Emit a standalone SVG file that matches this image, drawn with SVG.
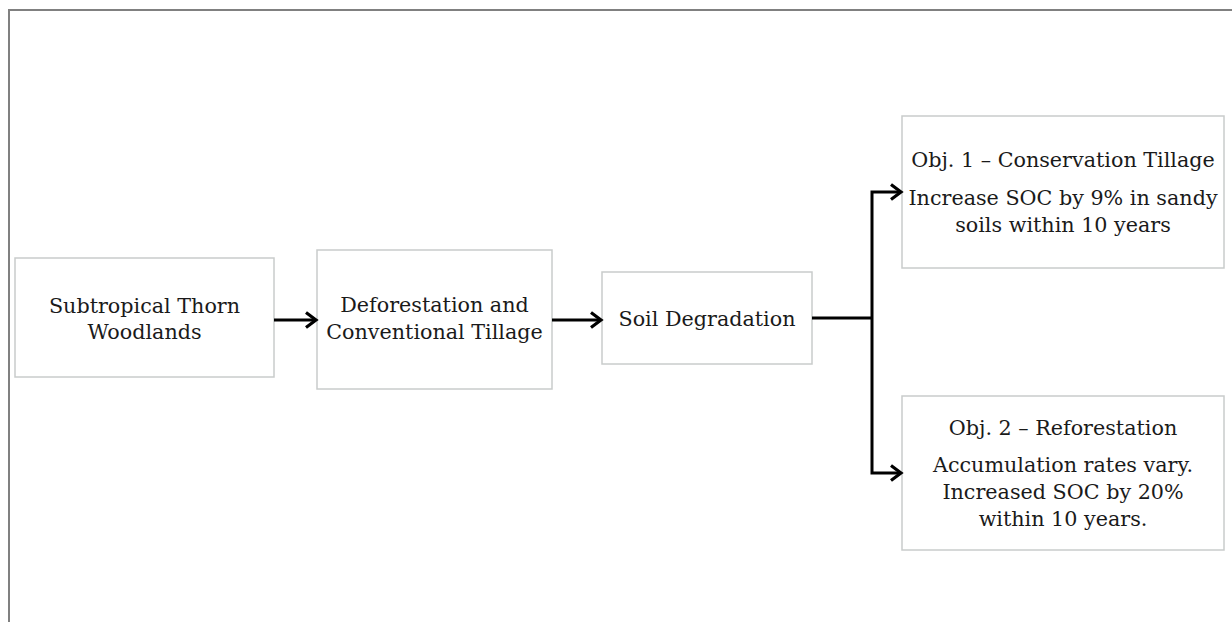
<svg xmlns="http://www.w3.org/2000/svg" width="1232" height="622" viewBox="0 0 1232 622">
<style>
.frame{fill:none;stroke:#808080;stroke-width:2}
.box{fill:#fff;stroke:#c9cccb;stroke-width:1.5}
.t{font-family:"DejaVu Serif","Liberation Serif",serif;font-size:20.7px;fill:#1a1a1a;text-anchor:middle}
.c{fill:none;stroke:#000;stroke-width:3}
</style>
<defs>
<marker id="arr" markerUnits="userSpaceOnUse" markerWidth="18" markerHeight="20" refX="14" refY="10" orient="auto">
<path d="M4,2.5 L14,10 L4,17.5" fill="none" stroke="#000" stroke-width="3.2"/>
</marker>
</defs>
<rect width="1232" height="622" fill="#fff"/>
<path class="frame" d="M9,622 V10 H1232"/>
<g id="n1"><rect class="box" x="15" y="258" width="259" height="119"/>
<text class="t" x="144.5" y="313">Subtropical Thorn</text><text class="t" x="144.5" y="339">Woodlands</text></g>
<g id="n2"><rect class="box" x="317" y="250" width="235" height="139"/>
<text class="t" x="434.5" y="312">Deforestation and</text><text class="t" x="434.5" y="339">Conventional Tillage</text></g>
<g id="n3"><rect class="box" x="602" y="272" width="210" height="92"/>
<text class="t" x="707" y="326">Soil Degradation</text></g>
<g id="n4"><rect class="box" x="902" y="116" width="322" height="152"/>
<text class="t" x="1063" y="167">Obj. 1 – Conservation Tillage</text>
<text class="t" x="1063" y="205">Increase SOC by 9% in sandy</text>
<text class="t" x="1063" y="232">soils within 10 years</text></g>
<g id="n5"><rect class="box" x="902" y="396" width="322" height="154"/>
<text class="t" x="1063" y="435">Obj. 2 – Reforestation</text>
<text class="t" x="1063" y="472">Accumulation rates vary.</text>
<text class="t" x="1063" y="499">Increased SOC by 20%</text>
<text class="t" x="1063" y="526">within 10 years.</text></g>
<g id="connectors">
<path class="c" d="M274,320 H316" marker-end="url(#arr)"/>
<path class="c" d="M552,320 H601" marker-end="url(#arr)"/>
<path class="c" d="M812,318 H872"/>
<path class="c" d="M872,318 V192 H901" marker-end="url(#arr)"/>
<path class="c" d="M872,318 V473 H901" marker-end="url(#arr)"/>
</g>
</svg>
